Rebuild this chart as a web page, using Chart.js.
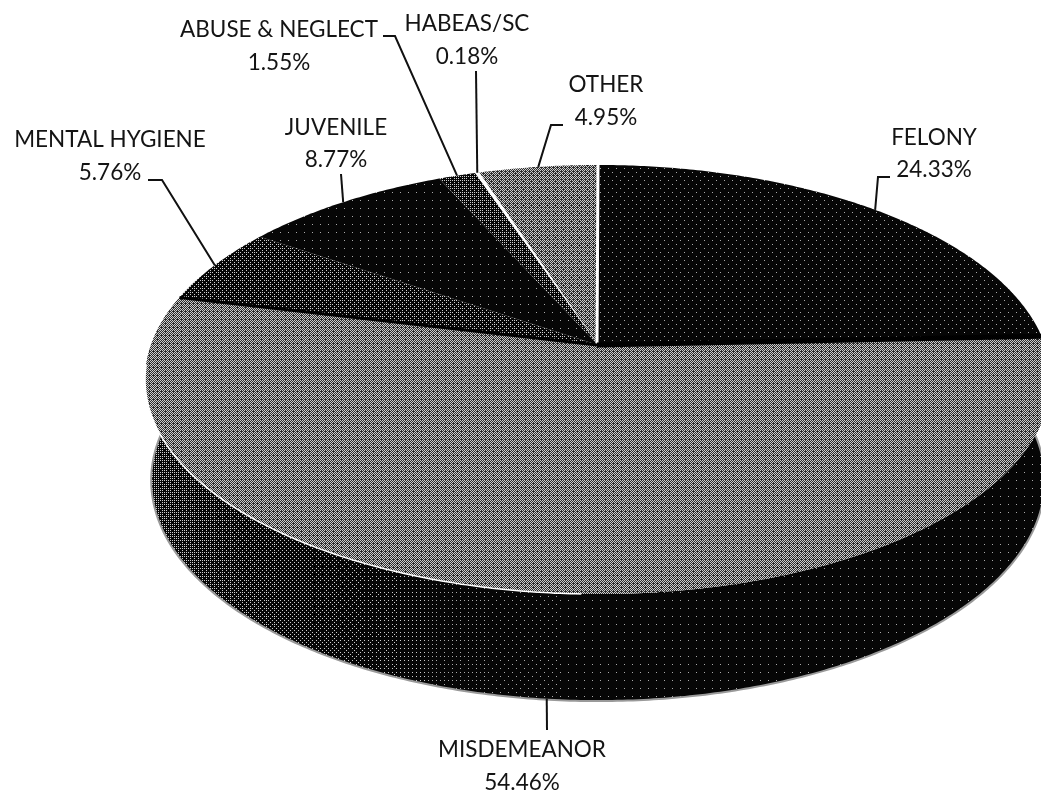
<!DOCTYPE html>
<html>
<head>
<meta charset="utf-8">
<title>Caseload by type</title>
<script src="https://cdn.jsdelivr.net/npm/chart.js@4/dist/chart.umd.min.js"></script>
<style>
    html, body { margin: 0; padding: 0; background: #fff; }
    canvas { display: block; }
</style>
</head>
<body>
<canvas id="pieChart" width="1041" height="792"></canvas>
<script>
const categories = ["FELONY", "MISDEMEANOR", "MENTAL HYGIENE", "JUVENILE", "ABUSE & NEGLECT", "HABEAS/SC", "OTHER"];
const shareValues = [24.33, 54.46, 5.76, 8.77, 1.55, 0.18, 4.95];

// share of light pixels in each slice's dither, the scan is nearly black and white
const sliceTones = [0.03, 0.45, 0.16, 0.015, 0.2, 1, 0.42];

// text centre, two baselines, then the bend points of the leader line
const labelLayout = [
    { x: 934, y1: 145, y2: 177, bends: [[878, 177], [890, 177]] },
    { x: 522, y1: 757, y2: 790, bends: [[547, 730]] },
    { x: 110, y1: 147, y2: 180, bends: [[162, 180], [148, 180]] },
    { x: 336, y1: 135, y2: 167, bends: [[341, 174]] },
    { x: 279, y1: 37, y2: 70, bends: [[395, 36], [383, 36]] },
    { x: 467, y1: 31, y2: 64, bends: [[476, 71]] },
    { x: 606, y1: 92, y2: 125, bends: [[551, 125], [563, 125]] }
];

// the tilted disc: flat circle pushed through a small perspective
const apexX = 598;
const apexY = 345;
const perspective = 0.161;
const topRim = { cy: apexY, rx: 447, ry: 209 };
const bottomRim = { cy: 445, rx: 440, ry: 214 };

function project(rim, angle) {
    const u = Math.cos(angle);
    const v = Math.sin(angle);
    const s = 1 / (1 - perspective * v);
    return [apexX + rim.rx * u * s, rim.cy + rim.ry * v * s];
}

function bayer(x, y) {
    let value = 0;
    for (let bit = 0; bit < 3; bit++) {
        const xb = (x >> bit) & 1;
        const yb = (y >> bit) & 1;
        value = value * 4 + (xb ^ yb) * 2 + yb;
    }
    return (value + 0.5) / 64;
}

function makeDither(width, height, levelAt) {
    const tex = document.createElement("canvas");
    tex.width = width;
    tex.height = height;
    const texCtx = tex.getContext("2d");
    const image = texCtx.createImageData(width, height);
    for (let y = 0; y < height; y++) {
        for (let x = 0; x < width; x++) {
            const level = levelAt(x, y);
            const diff = level - bayer(x, y);
            let shade = 6;
            if (diff > 0) {
                // sparse dots stay dim, the mid greys keep less contrast
                if (level < 0.06) shade = 170;
                else if (level < 0.9) shade = 205;
                else shade = 255;
            } else if (level >= 0.35) {
                shade = 45;
            }
            const i = (y * width + x) * 4;
            image.data[i] = image.data[i + 1] = image.data[i + 2] = shade;
            image.data[i + 3] = 255;
        }
    }
    texCtx.putImageData(image, 0, 0);
    return tex;
}

function traceArc(ctx, rim, start, end, moveFirst) {
    const steps = Math.max(2, Math.ceil(Math.abs(end - start) / 0.01));
    for (let i = 0; i <= steps; i++) {
        const p = project(rim, start + (end - start) * i / steps);
        if (i === 0 && moveFirst) ctx.moveTo(p[0], p[1]);
        else ctx.lineTo(p[0], p[1]);
    }
}

function strokeSpoke(ctx, angle, color, width) {
    const p = project(topRim, angle);
    ctx.beginPath();
    ctx.moveTo(apexX - 1, apexY);
    ctx.lineTo(p[0], p[1]);
    ctx.strokeStyle = color;
    ctx.lineWidth = width;
    ctx.stroke();
}

const tiltedPie = {
    id: "tiltedPie",
    beforeDatasetsDraw(chart) {
        const ctx = chart.ctx;
        const arcs = chart.getDatasetMeta(0).data;
        const width = chart.width;
        const height = chart.height;

        // wall under the big slice, lighter towards the left
        const misdemeanor = arcs[1];
        const wallTex = makeDither(width, height, (x) => {
            const t = Math.max(0, (700 - x) / 550);
            return 0.012 + 0.22 * Math.pow(t, 2.2);
        });
        ctx.save();
        ctx.beginPath();
        traceArc(ctx, bottomRim, misdemeanor.startAngle, misdemeanor.endAngle, true);
        ctx.strokeStyle = "#9a9a9a";
        ctx.lineWidth = 4;
        ctx.stroke();
        ctx.beginPath();
        traceArc(ctx, topRim, misdemeanor.startAngle, misdemeanor.endAngle, true);
        traceArc(ctx, bottomRim, misdemeanor.endAngle, misdemeanor.startAngle, false);
        ctx.closePath();
        ctx.clip();
        ctx.drawImage(wallTex, 0, 0);
        ctx.restore();

        // top face, one dither per slice
        arcs.forEach((arc, i) => {
            const tone = sliceTones[i];
            const tex = makeDither(width, height, () => tone);
            ctx.save();
            ctx.beginPath();
            ctx.moveTo(apexX, apexY);
            traceArc(ctx, topRim, arc.startAngle, arc.endAngle, false);
            ctx.closePath();
            ctx.clip();
            ctx.drawImage(tex, 0, 0);
            ctx.restore();
        });

        // seams between slices
        strokeSpoke(ctx, arcs[0].startAngle, "#ffffff", 3);
        strokeSpoke(ctx, arcs[0].endAngle, "#000000", 5);
        strokeSpoke(ctx, arcs[1].endAngle, "#000000", 3);

        // highlight on the front edge, left of centre only
        ctx.beginPath();
        traceArc(ctx, topRim, Math.PI * 0.51, Math.PI * 0.97, true);
        ctx.strokeStyle = "#ffffff";
        ctx.lineWidth = 1.5;
        ctx.stroke();

        return false;
    },
    afterDraw(chart) {
        const ctx = chart.ctx;
        const arcs = chart.getDatasetMeta(0).data;
        ctx.save();
        ctx.fillStyle = "#141414";
        ctx.textAlign = "center";
        ctx.textBaseline = "alphabetic";
        ctx.font = '22.5px Lato';
        categories.forEach((name, i) => {
            const layout = labelLayout[i];
            const mid = (arcs[i].startAngle + arcs[i].endAngle) / 2;
            // the big slice is labelled from the bottom of its wall
            const start = project(i === 1 ? bottomRim : topRim, mid);

            ctx.beginPath();
            ctx.moveTo(start[0], start[1]);
            layout.bends.forEach(b => ctx.lineTo(b[0], b[1]));
            ctx.strokeStyle = "#111";
            ctx.lineWidth = 2;
            ctx.stroke();

            ctx.fillText(name, layout.x, layout.y1);
            ctx.fillText(`${shareValues[i].toFixed(2)}%`, layout.x, layout.y2);
        });
        ctx.restore();
    }
};

new Chart(document.getElementById("pieChart"), {
    type: "pie",
    data: {
        labels: categories,
        datasets: [{ data: shareValues, borderWidth: 0 }]
    },
    options: {
        responsive: false,
        animation: false,
        plugins: { legend: { display: false }, tooltip: { enabled: false } }
    },
    plugins: [tiltedPie]
});
</script>
</body>
</html>
